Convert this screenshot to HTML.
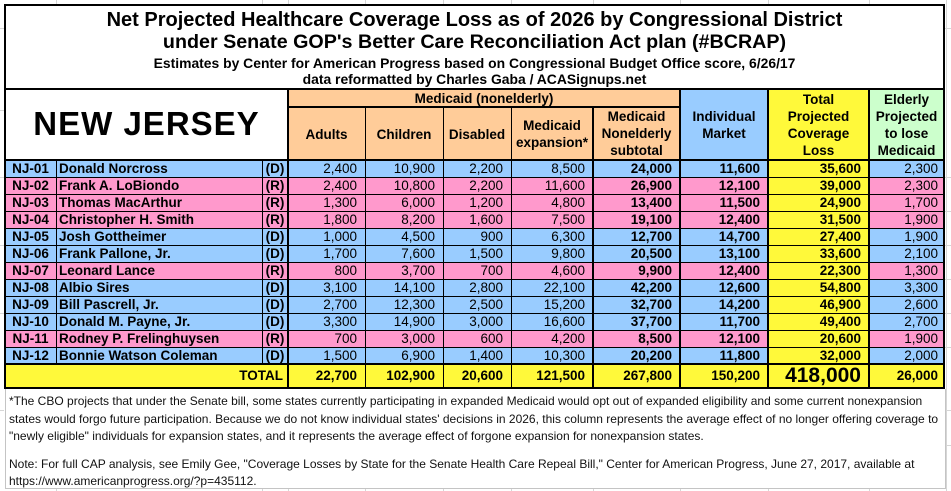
<!DOCTYPE html>
<html>
<head>
<meta charset="utf-8">
<style>
html,body{margin:0;padding:0;background:#fff;}
body{width:951px;height:491px;position:relative;overflow:hidden;font-family:"Liberation Sans",Arial,sans-serif;color:#000;}
.abs{position:absolute;box-sizing:border-box;}
.g{position:absolute;background:#d6d6d6;}
.k{position:absolute;background:#000;}
.t{position:absolute;left:5px;width:939px;text-align:center;font-weight:bold;white-space:nowrap;}
.hc{position:absolute;box-sizing:border-box;display:flex;align-items:center;justify-content:center;text-align:center;font-weight:bold;font-size:13.5px;line-height:17px;}
.row{position:absolute;left:5px;width:939px;height:17px;font-size:13.5px;line-height:17px;}
.row span{position:absolute;top:0;height:100%;white-space:nowrap;text-align:right;padding-right:8px;box-sizing:border-box;}
.row .a1{left:0;width:51px;text-align:center;padding-right:0;font-weight:bold;}
.row .a2{left:51px;width:206px;text-align:left;padding-left:3px;padding-right:0;font-weight:bold;}
.row .a3{left:257px;width:26px;text-align:center;padding-right:0;font-weight:bold;}
.row .a4{left:283px;width:77px;}
.row .a5{left:360px;width:78px;}
.row .a6{left:438px;width:68px;}
.row .a7{left:506px;width:82px;}
.row .a8{left:588px;width:87px;font-weight:bold;}
.row .a9{left:675px;width:88px;font-weight:bold;}
.row .a10{left:763px;width:101px;font-weight:bold;background:#FFF93A;}
.row .a11{left:864px;width:75px;padding-right:6px;}
.D{background:#99CCFF;}
.R{background:#FF99CC;}
.tot{background:#FFF93A;height:24px;line-height:24px;font-weight:bold;}
.tot span{font-weight:bold;}
.foot{position:absolute;left:9px;font-size:12px;line-height:17.5px;white-space:nowrap;color:#111;}
</style>
</head>
<body>

<!-- spreadsheet grid outside table -->
<div class="g" style="left:56px;top:0;width:1px;height:4px"></div>
<div class="g" style="left:262px;top:0;width:1px;height:4px"></div>
<div class="g" style="left:288px;top:0;width:1px;height:4px"></div>
<div class="g" style="left:365px;top:0;width:1px;height:4px"></div>
<div class="g" style="left:443px;top:0;width:1px;height:4px"></div>
<div class="g" style="left:511px;top:0;width:1px;height:4px"></div>
<div class="g" style="left:593px;top:0;width:1px;height:4px"></div>
<div class="g" style="left:680px;top:0;width:1px;height:4px"></div>
<div class="g" style="left:768px;top:0;width:1px;height:4px"></div>
<div class="g" style="left:869px;top:0;width:1px;height:4px"></div>
<div class="g" style="left:56px;top:489px;width:1px;height:2px"></div>
<div class="g" style="left:262px;top:489px;width:1px;height:2px"></div>
<div class="g" style="left:288px;top:489px;width:1px;height:2px"></div>
<div class="g" style="left:365px;top:489px;width:1px;height:2px"></div>
<div class="g" style="left:443px;top:489px;width:1px;height:2px"></div>
<div class="g" style="left:511px;top:489px;width:1px;height:2px"></div>
<div class="g" style="left:593px;top:489px;width:1px;height:2px"></div>
<div class="g" style="left:680px;top:489px;width:1px;height:2px"></div>
<div class="g" style="left:768px;top:489px;width:1px;height:2px"></div>
<div class="g" style="left:869px;top:489px;width:1px;height:2px"></div>
<div class="g" style="left:946px;top:0;width:1px;height:491px"></div>
<div class="g" style="left:945px;top:28px;width:6px;height:1px"></div>
<div class="g" style="left:945px;top:177px;width:6px;height:1px"></div>
<div class="g" style="left:945px;top:211px;width:6px;height:1px"></div>
<div class="g" style="left:945px;top:245px;width:6px;height:1px"></div>
<div class="g" style="left:945px;top:279px;width:6px;height:1px"></div>
<div class="g" style="left:945px;top:313px;width:6px;height:1px"></div>
<div class="g" style="left:945px;top:347px;width:6px;height:1px"></div>
<div class="g" style="left:945px;top:410px;width:6px;height:1px"></div>
<div class="g" style="left:945px;top:445px;width:6px;height:1px"></div>
<div class="g" style="left:0;top:28px;width:4px;height:1px"></div>
<div class="g" style="left:0;top:110px;width:4px;height:1px"></div>
<div class="g" style="left:0;top:177px;width:4px;height:1px"></div>
<div class="g" style="left:0;top:245px;width:4px;height:1px"></div>
<div class="g" style="left:0;top:313px;width:4px;height:1px"></div>
<div class="g" style="left:0;top:410px;width:4px;height:1px"></div>

<!-- footer frame -->
<div class="abs" style="left:5px;top:389px;width:941px;height:100px;border-left:1px solid #c4c4c4;border-right:1px solid #c4c4c4;border-bottom:1px solid #c4c4c4;"></div>

<!-- title -->
<div class="t" style="top:8px;font-size:20px;line-height:24px;">Net Projected Healthcare Coverage Loss as of 2026 by Congressional District</div>
<div class="t" style="top:30px;font-size:19.7px;line-height:24px;">under Senate GOP's Better Care Reconciliation Act plan (#BCRAP)</div>
<div class="t" style="top:55px;font-size:13.9px;line-height:16px;">Estimates by Center for American Progress based on Congressional Budget Office score, 6/26/17</div>
<div class="t" style="top:71px;font-size:13.9px;line-height:16px;">data reformatted by Charles Gaba / ACASignups.net</div>

<!-- header cells -->
<div class="hc" style="left:5px;top:90px;width:283px;height:70px;font-size:33px;line-height:33px;letter-spacing:1px;padding-bottom:3px;">NEW JERSEY</div>
<div class="hc" style="left:288px;top:89px;width:392px;height:18px;background:#FFCC99;">Medicaid (nonelderly)</div>
<div class="hc" style="left:288px;top:107px;width:77px;height:53px;background:#FFCC99;padding-top:1px;">Adults</div>
<div class="hc" style="left:365px;top:107px;width:78px;height:53px;background:#FFCC99;padding-top:1px;">Children</div>
<div class="hc" style="left:443px;top:107px;width:68px;height:53px;background:#FFCC99;padding-top:1px;">Disabled</div>
<div class="hc" style="left:511px;top:107px;width:82px;height:53px;background:#FFCC99;">Medicaid<br>expansion*</div>
<div class="hc" style="left:593px;top:107px;width:87px;height:53px;background:#FFCC99;">Medicaid<br>Nonelderly<br>subtotal</div>
<div class="hc" style="left:680px;top:89px;width:88px;height:71px;background:#99CCFF;">Individual<br>Market</div>
<div class="hc" style="left:768px;top:89px;width:101px;height:71px;background:#FFF93A;">Total<br>Projected<br>Coverage<br>Loss</div>
<div class="hc" style="left:869px;top:89px;width:75px;height:71px;background:#CCFFCC;">Elderly<br>Projected<br>to lose<br>Medicaid</div>

<!-- data rows -->
<div class="row D" style="top:160px"><span class="a1">NJ-01</span><span class="a2">Donald Norcross</span><span class="a3">(D)</span><span class="a4">2,400</span><span class="a5">10,900</span><span class="a6">2,200</span><span class="a7">8,500</span><span class="a8">24,000</span><span class="a9">11,600</span><span class="a10">35,600</span><span class="a11">2,300</span></div>
<div class="row R" style="top:177px"><span class="a1">NJ-02</span><span class="a2">Frank A. LoBiondo</span><span class="a3">(R)</span><span class="a4">2,400</span><span class="a5">10,800</span><span class="a6">2,200</span><span class="a7">11,600</span><span class="a8">26,900</span><span class="a9">12,100</span><span class="a10">39,000</span><span class="a11">2,300</span></div>
<div class="row R" style="top:194px"><span class="a1">NJ-03</span><span class="a2">Thomas MacArthur</span><span class="a3">(R)</span><span class="a4">1,300</span><span class="a5">6,000</span><span class="a6">1,200</span><span class="a7">4,800</span><span class="a8">13,400</span><span class="a9">11,500</span><span class="a10">24,900</span><span class="a11">1,700</span></div>
<div class="row R" style="top:211px"><span class="a1">NJ-04</span><span class="a2">Christopher H. Smith</span><span class="a3">(R)</span><span class="a4">1,800</span><span class="a5">8,200</span><span class="a6">1,600</span><span class="a7">7,500</span><span class="a8">19,100</span><span class="a9">12,400</span><span class="a10">31,500</span><span class="a11">1,900</span></div>
<div class="row D" style="top:228px"><span class="a1">NJ-05</span><span class="a2">Josh Gottheimer</span><span class="a3">(D)</span><span class="a4">1,000</span><span class="a5">4,500</span><span class="a6">900</span><span class="a7">6,300</span><span class="a8">12,700</span><span class="a9">14,700</span><span class="a10">27,400</span><span class="a11">1,900</span></div>
<div class="row D" style="top:245px"><span class="a1">NJ-06</span><span class="a2">Frank Pallone, Jr.</span><span class="a3">(D)</span><span class="a4">1,700</span><span class="a5">7,600</span><span class="a6">1,500</span><span class="a7">9,800</span><span class="a8">20,500</span><span class="a9">13,100</span><span class="a10">33,600</span><span class="a11">2,100</span></div>
<div class="row R" style="top:262px"><span class="a1">NJ-07</span><span class="a2">Leonard Lance</span><span class="a3">(R)</span><span class="a4">800</span><span class="a5">3,700</span><span class="a6">700</span><span class="a7">4,600</span><span class="a8">9,900</span><span class="a9">12,400</span><span class="a10">22,300</span><span class="a11">1,300</span></div>
<div class="row D" style="top:279px"><span class="a1">NJ-08</span><span class="a2">Albio Sires</span><span class="a3">(D)</span><span class="a4">3,100</span><span class="a5">14,100</span><span class="a6">2,800</span><span class="a7">22,100</span><span class="a8">42,200</span><span class="a9">12,600</span><span class="a10">54,800</span><span class="a11">3,300</span></div>
<div class="row D" style="top:296px"><span class="a1">NJ-09</span><span class="a2">Bill Pascrell, Jr.</span><span class="a3">(D)</span><span class="a4">2,700</span><span class="a5">12,300</span><span class="a6">2,500</span><span class="a7">15,200</span><span class="a8">32,700</span><span class="a9">14,200</span><span class="a10">46,900</span><span class="a11">2,600</span></div>
<div class="row D" style="top:313px"><span class="a1">NJ-10</span><span class="a2">Donald M. Payne, Jr.</span><span class="a3">(D)</span><span class="a4">3,300</span><span class="a5">14,900</span><span class="a6">3,000</span><span class="a7">16,600</span><span class="a8">37,700</span><span class="a9">11,700</span><span class="a10">49,400</span><span class="a11">2,700</span></div>
<div class="row R" style="top:330px"><span class="a1">NJ-11</span><span class="a2">Rodney P. Frelinghuysen</span><span class="a3">(R)</span><span class="a4">700</span><span class="a5">3,000</span><span class="a6">600</span><span class="a7">4,200</span><span class="a8">8,500</span><span class="a9">12,100</span><span class="a10">20,600</span><span class="a11">1,900</span></div>
<div class="row D" style="top:347px"><span class="a1">NJ-12</span><span class="a2">Bonnie Watson Coleman</span><span class="a3">(D)</span><span class="a4">1,500</span><span class="a5">6,900</span><span class="a6">1,400</span><span class="a7">10,300</span><span class="a8">20,200</span><span class="a9">11,800</span><span class="a10">32,000</span><span class="a11">2,000</span></div>

<!-- total row -->
<div class="row tot" style="top:364px"><span style="left:0;width:283px;padding-right:5px;">TOTAL</span><span class="a4">22,700</span><span class="a5">102,900</span><span class="a6">20,600</span><span class="a7">121,500</span><span class="a8">267,800</span><span class="a9">150,200</span><span class="a10" style="font-size:21px;">418,000</span><span class="a11" style="font-weight:bold;">26,000</span></div>

<!-- table lines: horizontal -->
<div class="k" style="left:4px;top:4px;width:941px;height:2px"></div>
<div class="k" style="left:4px;top:88px;width:941px;height:2px"></div>
<div class="k" style="left:288px;top:106px;width:392px;height:2px"></div>
<div class="k" style="left:4px;top:159px;width:941px;height:2px"></div>
<div class="k" style="left:4px;top:177px;width:941px;height:1px"></div>
<div class="k" style="left:4px;top:194px;width:941px;height:1px"></div>
<div class="k" style="left:4px;top:211px;width:941px;height:1px"></div>
<div class="k" style="left:4px;top:228px;width:941px;height:1px"></div>
<div class="k" style="left:4px;top:245px;width:941px;height:1px"></div>
<div class="k" style="left:4px;top:262px;width:941px;height:1px"></div>
<div class="k" style="left:4px;top:279px;width:941px;height:1px"></div>
<div class="k" style="left:4px;top:296px;width:941px;height:1px"></div>
<div class="k" style="left:4px;top:313px;width:941px;height:1px"></div>
<div class="k" style="left:4px;top:330px;width:941px;height:1px"></div>
<div class="k" style="left:4px;top:347px;width:941px;height:1px"></div>
<div class="k" style="left:4px;top:363px;width:941px;height:2px"></div>
<div class="k" style="left:4px;top:387px;width:941px;height:2px"></div>

<!-- table lines: vertical -->
<div class="k" style="left:4px;top:4px;width:2px;height:385px"></div>
<div class="k" style="left:943px;top:4px;width:2px;height:385px"></div>
<div class="k" style="left:56px;top:160px;width:1px;height:204px"></div>
<div class="k" style="left:262px;top:160px;width:1px;height:204px"></div>
<div class="k" style="left:287px;top:88px;width:2px;height:301px"></div>
<div class="k" style="left:365px;top:107px;width:1px;height:282px"></div>
<div class="k" style="left:443px;top:107px;width:1px;height:282px"></div>
<div class="k" style="left:511px;top:107px;width:1px;height:282px"></div>
<div class="k" style="left:592px;top:107px;width:2px;height:282px"></div>
<div class="k" style="left:679px;top:88px;width:2px;height:301px"></div>
<div class="k" style="left:767px;top:88px;width:2px;height:301px"></div>
<div class="k" style="left:868px;top:88px;width:2px;height:301px"></div>

<!-- footer text -->
<div class="foot" style="top:393px;">*The CBO projects that under the Senate bill, some states currently participating in expanded Medicaid would opt out of expanded eligibility and some current nonexpansion<br>states would forgo future participation. Because we do not know individual states' decisions in 2026, this column represents the average effect of no longer offering coverage to<br>"newly eligible" individuals for expansion states, and it represents the average effect of forgone expansion for nonexpansion states.</div>
<div class="foot" style="top:456px;line-height:17px;">Note: For full CAP analysis, see Emily Gee, "Coverage Losses by State for the Senate Health Care Repeal Bill," Center for American Progress, June 27, 2017, available at<br>https://www.americanprogress.org/?p=435112.</div>

</body>
</html>
